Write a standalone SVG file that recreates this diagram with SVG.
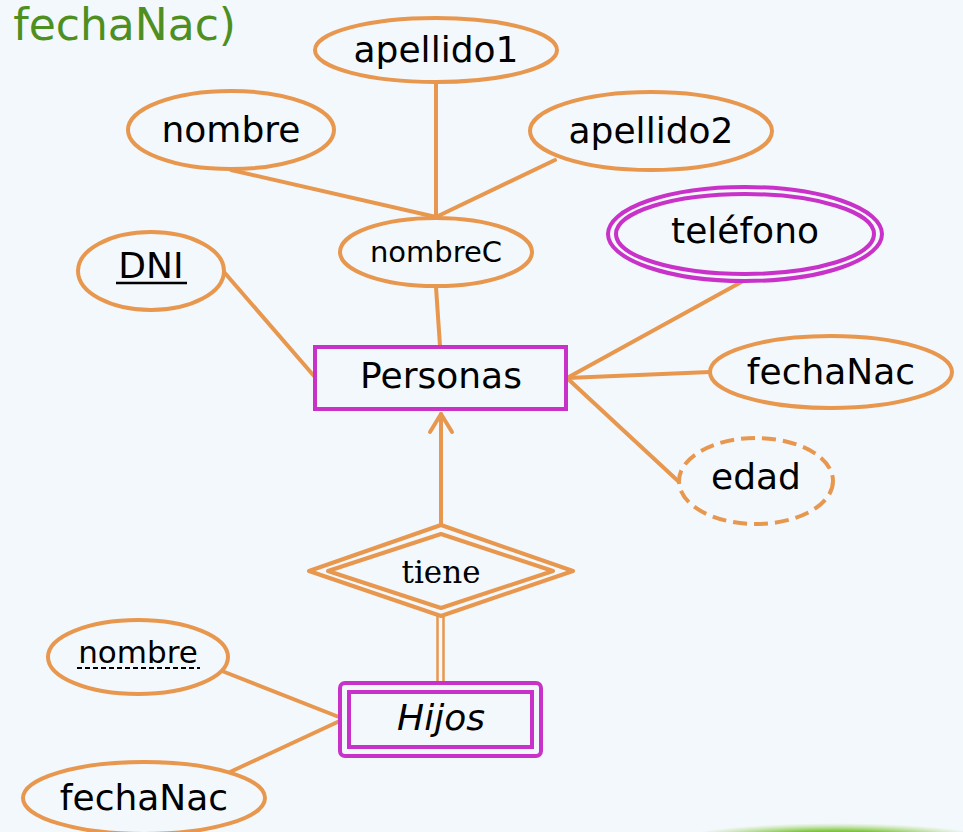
<svg xmlns="http://www.w3.org/2000/svg" width="963" height="832" viewBox="0 0 963 832">
<defs>
<style>
.bg{fill:#F3F8FC}
.attr{fill:#F3F8FC;stroke:#E8974E;stroke-width:4}
.dash{stroke-dasharray:14 7}
.mag{fill:none;stroke:#C832C8;stroke-width:4}
.con{stroke:#E8974E;stroke-width:4;fill:none;stroke-linecap:round}
.lbl{font-family:"DejaVu Sans",sans-serif;font-size:36px;fill:#000;text-anchor:middle}
</style>
<radialGradient id="grn" cx="0.5" cy="0.5" r="0.5">
<stop offset="0" stop-color="#6DBE2C"/>
<stop offset="0.6" stop-color="#7CC43A"/>
<stop offset="1" stop-color="#A8D870" stop-opacity="0"/>
</radialGradient>
</defs>
<rect class="bg" x="0" y="0" width="963" height="832"/>
<ellipse cx="835" cy="843" rx="165" ry="20" fill="url(#grn)"/>
<text x="236" y="40" font-family="DejaVu Sans,sans-serif" font-size="44" fill="#4E8F1F" text-anchor="end">fechaNac)</text>

<g id="connectors">
<line class="con" x1="231" y1="170" x2="436" y2="217"/>
<line class="con" x1="436" y1="82" x2="436" y2="217"/>
<line class="con" x1="555" y1="160" x2="436" y2="217"/>
<line class="con" x1="436" y1="287" x2="440" y2="346"/>
<line class="con" x1="224" y1="272" x2="314" y2="376"/>
<line class="con" x1="745" y1="280" x2="567" y2="378"/>
<line class="con" x1="710" y1="372" x2="567" y2="378"/>
<line class="con" x1="678" y1="481" x2="567" y2="378"/>
<line class="con" x1="441" y1="525" x2="441" y2="414"/>
<polyline class="con" points="430,432 441,414 452,432" stroke-linejoin="round"/>
<line x1="437.5" y1="616" x2="437.5" y2="682" stroke="#E8974E" stroke-width="2.5"/>
<line x1="443.5" y1="616" x2="443.5" y2="682" stroke="#E8974E" stroke-width="2.5"/>
<line class="con" x1="222" y1="671" x2="344" y2="719"/>
<line class="con" x1="230" y1="772" x2="344" y2="719"/>
</g>

<g id="apellido1">
<ellipse class="attr" cx="436" cy="50" rx="121" ry="32"/>
<text class="lbl" x="436" y="62">apellido1</text>
</g>
<g id="nombre">
<ellipse class="attr" cx="231" cy="130" rx="103" ry="39"/>
<text class="lbl" x="231" y="142">nombre</text>
</g>
<g id="apellido2">
<ellipse class="attr" cx="651" cy="131" rx="121" ry="39"/>
<text class="lbl" x="651" y="143">apellido2</text>
</g>
<g id="nombreC">
<ellipse class="attr" cx="436" cy="252" rx="96" ry="34"/>
<text class="lbl" x="436" y="262" style="font-size:29px">nombreC</text>
</g>
<g id="DNI">
<ellipse class="attr" cx="151" cy="271" rx="73" ry="39"/>
<text class="lbl" x="151" y="278">DNI</text>
<line x1="116" y1="283" x2="187" y2="283" stroke="#000" stroke-width="2.5"/>
</g>
<g id="telefono">
<ellipse cx="745" cy="234" rx="137" ry="47" class="mag" style="fill:#F3F8FC"/>
<ellipse cx="745" cy="234" rx="129" ry="40" class="mag"/>
<text class="lbl" x="745" y="243">teléfono</text>
</g>
<g id="Personas">
<rect x="315" y="347" width="251" height="62" class="mag" style="fill:#F3F8FC"/>
<text class="lbl" x="441" y="388">Personas</text>
</g>
<g id="fechaNac">
<ellipse class="attr" cx="831" cy="372" rx="121" ry="36"/>
<text class="lbl" x="831" y="384">fechaNac</text>
</g>
<g id="edad">
<ellipse class="attr dash" cx="756" cy="481" rx="77" ry="43"/>
<text class="lbl" x="756" y="489">edad</text>
</g>
<g id="tiene">
<polygon points="441,525 573,571 441,616 309,571" fill="#F3F8FC" stroke="#E8974E" stroke-width="4" stroke-linejoin="round"/>
<polygon points="441,534 553,571 441,608 328,571" fill="none" stroke="#E8974E" stroke-width="4" stroke-linejoin="round"/>
<text x="441" y="583" font-family="DejaVu Serif,serif" font-size="31" text-anchor="middle" fill="#000">tiene</text>
</g>
<g id="Hijos">
<rect x="340" y="683" width="201" height="73" rx="5" class="mag" style="fill:#F3F8FC"/>
<rect x="349" y="692" width="183" height="55" class="mag"/>
<text class="lbl" x="441" y="730" font-style="italic">Hijos</text>
</g>
<g id="nombreHijo">
<ellipse class="attr" cx="138" cy="657" rx="90" ry="37"/>
<text class="lbl" x="138" y="663" style="font-size:31px">nombre</text>
<line x1="77" y1="668" x2="200" y2="668" stroke="#000" stroke-width="2" stroke-dasharray="5 3"/>
</g>
<g id="fechaNacHijo">
<ellipse class="attr" cx="144" cy="798" rx="121" ry="36"/>
<text class="lbl" x="144" y="810">fechaNac</text>
</g>
</svg>
